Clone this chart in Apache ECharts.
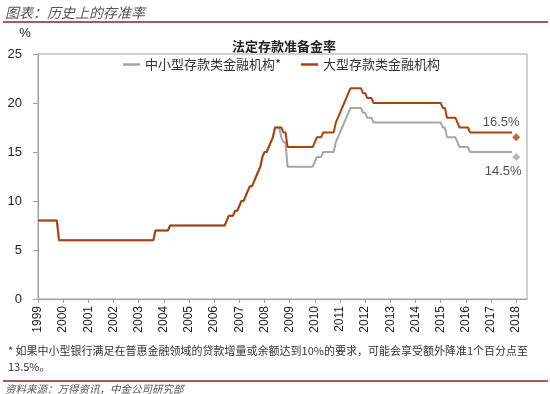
<!DOCTYPE html>
<html>
<head>
<meta charset="utf-8">
<script src="https://cdn.jsdelivr.net/npm/echarts@6/dist/echarts.min.js"></script>
<style>
html,body{margin:0;padding:0;background:#fff;}
#chart{width:550px;height:394px;}
</style>
</head>
<body>
<div id="chart"></div>
<script>
// ---- data (change points, monthly) ----
const months = ['1999-01','1999-10','1999-11','2003-08','2003-09','2004-03','2004-04','2006-06','2006-07','2006-08','2006-10','2006-11','2006-12','2007-01','2007-02','2007-03','2007-04','2007-05','2007-06','2007-07','2007-08','2007-09','2007-10','2007-11','2007-12','2008-01','2008-02','2008-03','2008-04','2008-05','2008-06','2008-08','2008-09','2008-10','2008-11','2008-12','2009-12','2010-01','2010-02','2010-04','2010-05','2010-10','2010-11','2010-12','2011-01','2011-02','2011-03','2011-04','2011-05','2011-06','2011-11','2011-12','2012-01','2012-02','2012-04','2012-05','2015-01','2015-02','2015-03','2015-04','2015-08','2015-09','2015-10','2016-02','2016-03','2017-11'];
const largeRate = [8,8,6,6,7,7,7.5,7.5,8,8.5,8.5,9,9,9.5,10,10,10.5,11,11.5,11.5,12,12.5,13,13.5,14.5,15,15,15.5,16,16.5,17.5,17.5,17.5,17,17,15.5,15.5,16,16.5,16.5,17,17,18,18.5,19,19.5,20,20.5,21,21.5,21.5,21,21,20.5,20.5,20,20,19.5,19.5,18.5,18.5,18,17.5,17.5,17,17];
const smallRate = [8,8,6,6,7,7,7.5,7.5,8,8.5,8.5,9,9,9.5,10,10,10.5,11,11.5,11.5,12,12.5,13,13.5,14.5,15,15,15.5,16,16.5,17.5,17.5,16.5,16,16,13.5,13.5,14,14.5,14.5,15,15,16,16.5,17,17.5,18,18.5,19,19.5,19.5,19,19,18.5,18.5,18,18,17.5,17.5,16.5,16.5,16,15.5,15.5,15,15];
const markerMonth = '2018-01';
const largeMarker = 16.5;
const smallMarker = 14.5;
const yearLabels = [1999,2000,2001,2002,2003,2004,2005,2006,2007,2008,2009,2010,2011,2012,2013,2014,2015,2016,2017,2018];
const seriesNames = ['中小型存款类金融机构*','大型存款类金融机构'];

function toX(m){ const p = m.split('-'); return (+p[0]) + (+p[1]-1)/12; }
const largeData = months.map((m,i)=>[toX(m), largeRate[i]]);
const smallData = months.map((m,i)=>[toX(m), smallRate[i]]);

const RED = '#A8420F', GRAY = '#A6A6A6';
const NUMFONT = 'Liberation Sans';
const CJK = 'Noto Sans CJK SC';

const chart = echarts.init(document.getElementById('chart'), null, {renderer:'canvas'});
chart.setOption({
  animation:false,
  backgroundColor:'#fff',
  title:{
    text:'法定存款准备金率', left:227, top:35,
    textStyle:{fontFamily:CJK, fontSize:13, fontWeight:'bold', color:'#222'}
  },
  legend:{
    data:seriesNames, left:123, top:58, padding:0, itemGap:20,
    icon:'rect', itemWidth:17, itemHeight:2.5,
    textStyle:{fontFamily:CJK, fontSize:13, color:'#333'}
  },
  grid:{left:38, right:23, top:54, bottom:95, show:true, borderColor:'#A0A0A0', borderWidth:1},
  xAxis:{
    type:'value', min:1999, max:2018.43, interval:1,
    axisLine:{show:true, lineStyle:{color:'#A0A0A0'}},
    axisTick:{show:true, length:4, lineStyle:{color:'#A0A0A0'}, customValues:yearLabels},
    splitLine:{show:false},
    axisLabel:{rotate:90, margin:7, fontFamily:NUMFONT, fontSize:12, color:'#222',
      customValues:yearLabels,
      formatter:function(v){ return Math.abs(v-Math.round(v))<1e-6 ? String(Math.round(v)) : ''; }}
  },
  yAxis:{
    type:'value', min:0, max:25, interval:5,
    axisLine:{show:true, lineStyle:{color:'#A0A0A0'}},
    axisTick:{show:true, length:5, lineStyle:{color:'#A0A0A0'}},
    splitLine:{show:false},
    axisLabel:{margin:16, fontFamily:NUMFONT, fontSize:13, color:'#222'}
  },
  series:[
    {name:seriesNames[0], type:'line', data:smallData, symbol:'none', color:GRAY,
      lineStyle:{width:2, color:GRAY}, z:2},
    {name:seriesNames[1], type:'line', data:largeData, symbol:'none', color:RED,
      lineStyle:{width:2, color:RED}, z:3},
    {name:'largeMarker', type:'scatter', symbol:'diamond', symbolSize:8,
      data:[[toX(markerMonth), largeMarker]], itemStyle:{color:RED},
      label:{show:true, position:'top', distance:4, offset:[-15,0],
        formatter:function(p){return p.value[1]+'%';}, fontFamily:NUMFONT, fontSize:13, color:'#222'}},
    {name:'smallMarker', type:'scatter', symbol:'diamond', symbolSize:8,
      data:[[toX(markerMonth), smallMarker]], itemStyle:{color:GRAY},
      label:{show:true, position:'bottom', distance:4, offset:[-13,0],
        formatter:function(p){return p.value[1]+'%';}, fontFamily:NUMFONT, fontSize:13, color:'#222'}}
  ],
  graphic:[
    {type:'text', x:5, y:13, style:{text:'图表：历史上的存准率', font:'italic 14px "Noto Sans CJK SC"', fill:'#555', textAlign:'left', textVerticalAlign:'middle'}},
    {type:'line', shape:{x1:3, y1:22, x2:548, y2:22}, style:{stroke:'#8B2323', lineWidth:1.5}},
    {type:'text', x:25, y:33, style:{text:'%', font:'13px "Liberation Sans"', fill:'#222', textAlign:'center', textVerticalAlign:'middle'}},
    {type:'text', x:8, y:351, style:{text:'* 如果中小型银行满足在普惠金融领域的贷款增量或余额达到10%的要求，可能会享受额外降准1个百分点至', font:'11px "Noto Sans CJK SC"', fill:'#333', textAlign:'left', textVerticalAlign:'middle'}},
    {type:'text', x:8, y:367, style:{text:'13.5%。', font:'11px "Noto Sans CJK SC"', fill:'#333', textAlign:'left', textVerticalAlign:'middle'}},
    {type:'line', shape:{x1:3, y1:381, x2:548, y2:381}, style:{stroke:'#8B2323', lineWidth:1.5}},
    {type:'text', x:5, y:389, style:{text:'资料来源：万得资讯，中金公司研究部', font:'italic 10.5px "Noto Sans CJK SC"', fill:'#555', textAlign:'left', textVerticalAlign:'middle'}}
  ]
});
</script>
</body>
</html>
